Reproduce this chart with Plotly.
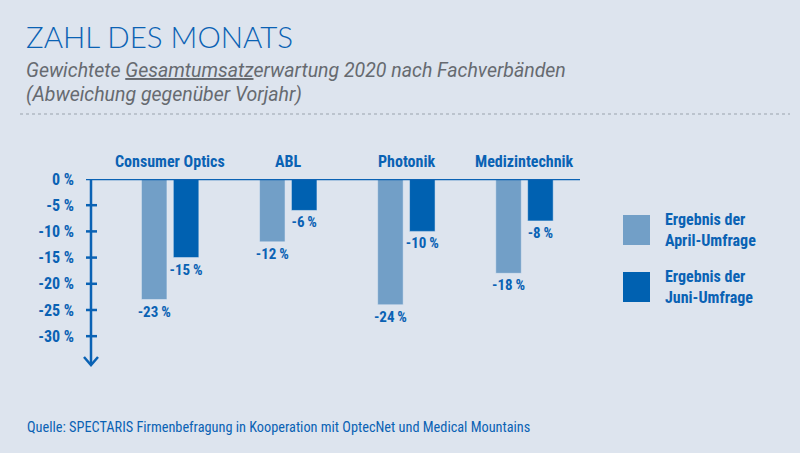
import plotly.graph_objects as go

categories = ["Consumer Optics", "ABL", "Photonik", "Medizintechnik"]
april = [-23, -12, -24, -18]
juni = [-15, -6, -10, -8]
tick_vals = [0, -5, -10, -15, -20, -25, -30]
tick_text = ["0 %", "-5 %", "-10 %", "-15 %", "-20 %", "-25 %", "-30 %"]

BG = "#dde4ee"
BLUE = "#0a62b4"
LIGHT = "#729fc7"
DARK = "#0061b1"
L, R, T, B = 91, 220, 179, 88
W, H = 800 - L - R, 453 - T - B
px = lambda x: (x - L) / W
py = lambda y: (453 - B - y) / H
FONT = "Roboto Condensed, Roboto"

fig = go.Figure()
for name, vals, col in [("April", april, LIGHT), ("Juni", juni, DARK)]:
    fig.add_bar(x=list(range(len(categories))), y=vals, marker_color=col, name=name,
                text=[f"<b>{v}\u2009%</b>" for v in vals], textposition="outside",
                constraintext="none",
                textfont=dict(family=FONT, size=15, color=BLUE), cliponaxis=False)

fig.update_layout(
    width=800, height=453, paper_bgcolor=BG, plot_bgcolor=BG, showlegend=False,
    margin=dict(l=L, r=R, t=T, b=B), barmode="group", bargap=0.46, bargroupgap=0.2,
    xaxis=dict(range=[-0.67, 3.47], visible=False),
    yaxis=dict(range=[-35.5, 0], tickvals=tick_vals, ticktext=[f"<b>{t}</b>" for t in tick_text],
               showgrid=False, zeroline=False, showline=False, ticks="", ticklabelstandoff=16,
               tickfont=dict(family=FONT, size=16, color=BLUE)),
    font=dict(family=FONT),
)
fig.add_shape(type="line", xref="paper", yref="y", x0=px(86), x1=1, y0=0, y1=0,
              line=dict(color=BLUE, width=2.5))
fig.add_shape(type="line", xref="paper", yref="y", x0=0, x1=0, y0=0, y1=-35.3,
              line=dict(color=BLUE, width=2.5))
for v in tick_vals[1:]:
    fig.add_shape(type="line", xref="paper", yref="y", x0=px(86), x1=px(97), y0=v, y1=v,
                  line=dict(color=BLUE, width=2.5))
fig.add_shape(type="path", xref="paper", yref="paper",
              path=f"M {px(84)},{py(357)} L {px(91)},{py(365)} L {px(98)},{py(357)}",
              line=dict(color=BLUE, width=2.5))
for i, c in enumerate(categories):
    fig.add_annotation(x=i, y=py(161), yref="paper", yanchor="middle", text=f"<b>{c}</b>",
                       showarrow=False, font=dict(family=FONT, size=16, color=BLUE))
fig.add_annotation(x=px(24), y=py(36), xref="paper", yref="paper", xanchor="left", yanchor="middle",
                   text="ZAHL DES MONATS", showarrow=False,
                   font=dict(family="Lato Light, Lato", size=29.5, color=BLUE, weight=300))
fig.add_annotation(x=px(24), y=py(70), xref="paper", yref="paper", xanchor="left", yanchor="middle",
                   text="<i>Gewichtete <u>Gesamtumsatz</u>erwartung 2020 nach Fachverbänden</i>",
                   showarrow=False, font=dict(family="Roboto", size=19.5, color="#666a70"))
fig.add_annotation(x=px(24), y=py(95), xref="paper", yref="paper", xanchor="left", yanchor="middle",
                   text="<i>(Abweichung gegenüber Vorjahr)</i>",
                   showarrow=False, font=dict(family="Roboto", size=19.5, color="#666a70"))
fig.add_shape(type="line", xref="paper", yref="paper", x0=px(20), x1=px(790), y0=py(114), y1=py(114),
              line=dict(color="#9aa3ad", width=1, dash="dot"))
fig.add_annotation(x=px(25), y=py(427), xref="paper", yref="paper", xanchor="left", yanchor="middle",
                   text="Quelle: SPECTARIS Firmenbefragung in Kooperation mit OptecNet und Medical Mountains",
                   showarrow=False, font=dict(family=FONT, size=14.3, color=BLUE))
for (y0, col, txt) in [(215, LIGHT, "Ergebnis der<br>April-Umfrage"), (272, DARK, "Ergebnis der<br>Juni-Umfrage")]:
    fig.add_shape(type="rect", xref="paper", yref="paper", x0=px(623), x1=px(650),
                  y0=py(y0), y1=py(y0 + 30), fillcolor=col, line_width=0)
    fig.add_annotation(x=px(663), y=py(y0 + 15), xref="paper", yref="paper", xanchor="left",
                       yanchor="middle", align="left", text=f"<b>{txt}</b>", showarrow=False,
                       font=dict(family=FONT, size=16, color=BLUE))
fig.write_html("out.html", post_script="document.body.style.margin='0';",
               config={"displayModeBar": False})
